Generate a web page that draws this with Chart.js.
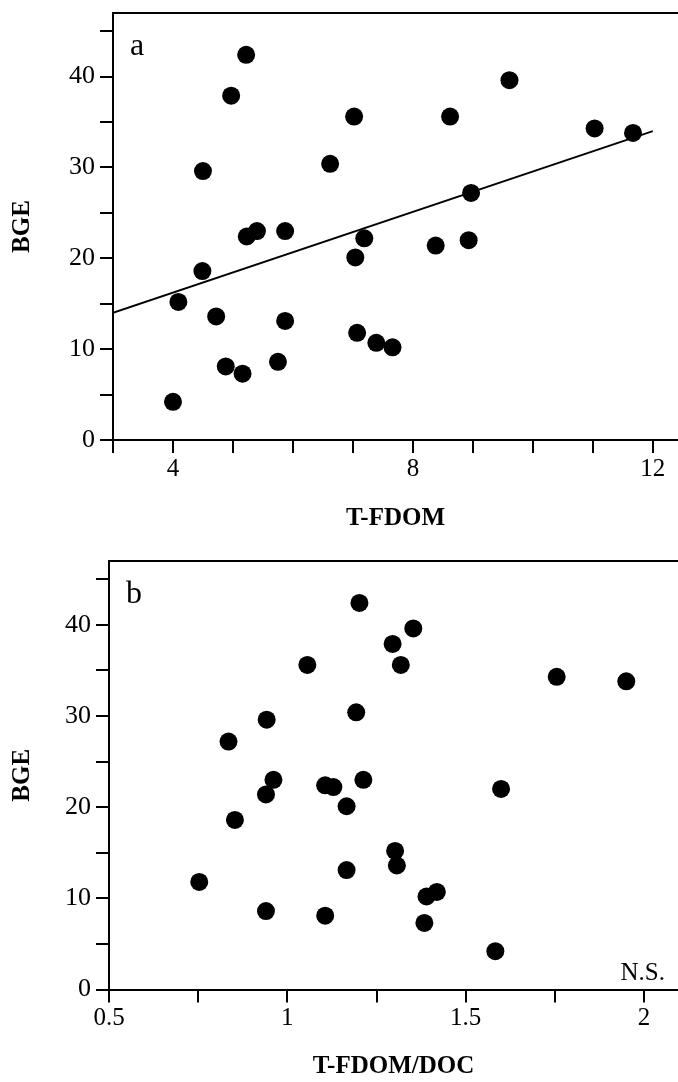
<!DOCTYPE html>
<html>
<head>
<meta charset="utf-8">
<script src="https://cdn.jsdelivr.net/npm/chart.js@4/dist/chart.umd.min.js"></script>
<style>
  html, body { margin: 0; padding: 0; background: #fff; width: 678px; height: 1082px; overflow: hidden; }
  canvas { position: absolute; left: 0; display: block; }
</style>
</head>
<body>
<canvas id="panelA" width="678" height="545" style="top:0"></canvas>
<canvas id="panelB" width="678" height="537" style="top:545px"></canvas>
<script>
// Bacterial growth efficiency for each sample (shared by both panels)
const bge = [4.2, 15.2, 18.6, 29.6, 13.6, 8.1, 37.9, 7.3, 42.4, 22.4,
             23.0, 8.6, 13.1, 23.0, 30.4, 35.6, 20.1, 11.8, 22.2, 10.7,
             10.2, 21.4, 35.6, 22.0, 27.2, 39.6, 34.3, 33.8];
// Terrestrial FDOM for the same samples
const tfdom = [4.00, 4.09, 4.49, 4.50, 4.72, 4.88, 4.97, 5.16, 5.22, 5.23,
               5.40, 5.75, 5.87, 5.87, 6.62, 7.02, 7.04, 7.07, 7.19, 7.39,
               7.66, 8.38, 8.62, 8.93, 8.97, 9.61, 11.03, 11.67];
// Terrestrial FDOM normalised to DOC
const tfdomPerDoc = [1.583, 1.302, 0.853, 0.942, 1.307, 1.106, 1.295, 1.384, 1.202, 1.106,
                     0.961, 0.940, 1.166, 1.213, 1.193, 1.056, 1.166, 0.753, 1.129, 1.419,
                     1.390, 0.940, 1.318, 1.599, 0.835, 1.353, 1.755, 1.950];
// Least-squares fit of BGE on T-FDOM (endpoints)
const fitX = [3, 12];
const fitY = [14.0, 34.0];

// Axis ticks and which of them carry a label
const bgeTicks = [0, 5, 10, 15, 20, 25, 30, 35, 40, 45];
const bgeLabels = [0, 10, 20, 30, 40];
const tfdomTicks = [3, 4, 5, 6, 7, 8, 9, 10, 11, 12];
const tfdomLabels = [4, 8, 12];
const ratioTicks = [0.5, 0.75, 1, 1.25, 1.5, 1.75, 2];
const ratioLabels = [0.5, 1, 1.5, 2];

const SERIF = "'Liberation Serif', 'Times New Roman', serif";

// Closes the box along the top of the plotting area and writes the panel notes
const panelDecor = {
  id: 'panelDecor',
  afterDraw(chart, args, opts) {
    const { ctx, chartArea: a } = chart;
    ctx.save();
    ctx.strokeStyle = '#000';
    ctx.lineWidth = 2;
    ctx.beginPath();
    ctx.moveTo(a.left - 1, a.top);
    ctx.lineTo(a.right, a.top);
    ctx.stroke();
    ctx.fillStyle = '#000';
    ctx.textBaseline = 'alphabetic';
    ctx.textAlign = 'left';
    ctx.font = '32px ' + SERIF;
    ctx.fillText(opts.letter, a.left + 17, a.top + 42);
    if (opts.note) {
      ctx.textAlign = 'right';
      ctx.font = '25px ' + SERIF;
      ctx.fillText(opts.note, a.right - 13, a.bottom - 10);
    }
    ctx.restore();
  }
};

function makePanel(id, cfg) {
  const points = cfg.xs.map((x, i) => ({ x: x, y: bge[i] }));
  const datasets = [{
    data: points,
    backgroundColor: '#000',
    borderWidth: 0,
    pointRadius: 9,
    pointHoverRadius: 9
  }];
  if (cfg.fit) {
    datasets.push({
      data: cfg.fit.x.map((x, i) => ({ x: x, y: cfg.fit.y[i] })),
      showLine: true,
      borderColor: '#000',
      borderWidth: 1.8,
      pointRadius: 0,
      fill: false
    });
  }
  const axisLine = { display: true, color: '#000', width: 2 };
  const tickMarks = {
    display: true, drawOnChartArea: false, drawTicks: true,
    tickLength: 13, tickWidth: 2, lineWidth: 2, color: '#000', tickColor: '#000'
  };
  return new Chart(document.getElementById(id), {
    type: 'scatter',
    data: { datasets: datasets },
    plugins: [panelDecor],
    options: {
      responsive: false,
      animation: false,
      events: [],
      layout: { autoPadding: false, padding: { top: cfg.padTop, right: 0, left: 0, bottom: 0 } },
      plugins: {
        legend: { display: false },
        tooltip: { enabled: false },
        panelDecor: { letter: cfg.letter, note: cfg.note }
      },
      scales: {
        x: {
          type: 'linear',
          min: cfg.xMin, max: cfg.xMax,
          border: axisLine,
          grid: tickMarks,
          afterBuildTicks: s => { s.ticks = cfg.xTicks.map(v => ({ value: v })); },
          afterFit: s => {
            s.height = cfg.xAxisHeight;
            s.paddingLeft = 0; s.paddingRight = 0;
          },
          ticks: {
            color: '#000', padding: 1, maxRotation: 0, autoSkip: false,
            font: { family: SERIF, size: 25 },
            callback: v => cfg.xLabels.includes(v) ? String(v) : ''
          },
          title: {
            display: true, text: cfg.xTitle, color: '#000',
            font: { family: SERIF, size: 25, weight: 'bold' },
            padding: { top: 0, bottom: cfg.titlePadBottom }
          }
        },
        y: {
          type: 'linear',
          min: 0, max: 47,
          border: axisLine,
          grid: tickMarks,
          afterBuildTicks: s => { s.ticks = bgeTicks.map(v => ({ value: v })); },
          afterFit: s => {
            s.width = cfg.yAxisWidth;
            s.paddingTop = 0; s.paddingBottom = 0;
          },
          ticks: {
            color: '#000', padding: 5, autoSkip: false,
            font: { family: SERIF, size: 26 },
            callback: v => bgeLabels.includes(v) ? String(v) : ''
          },
          title: {
            display: true, text: 'BGE', color: '#000',
            font: { family: SERIF, size: 25, weight: 'bold' },
            padding: { top: 8, bottom: 0 }
          }
        }
      }
    }
  });
}

makePanel('panelA', {
  xs: tfdom, xMin: 3, xMax: 12.42,
  xTicks: tfdomTicks, xLabels: tfdomLabels, xTitle: 'T-FDOM',
  fit: { x: fitX, y: fitY },
  letter: 'a', note: null,
  padTop: 13, xAxisHeight: 105, yAxisWidth: 113, titlePadBottom: 11
});

makePanel('panelB', {
  xs: tfdomPerDoc, xMin: 0.5, xMax: 2.095,
  xTicks: ratioTicks, xLabels: ratioLabels, xTitle: 'T-FDOM/DOC',
  fit: null,
  letter: 'b', note: 'N.S.',
  padTop: 16, xAxisHeight: 92.5, yAxisWidth: 109, titlePadBottom: 0
});
</script>
</body>
</html>
